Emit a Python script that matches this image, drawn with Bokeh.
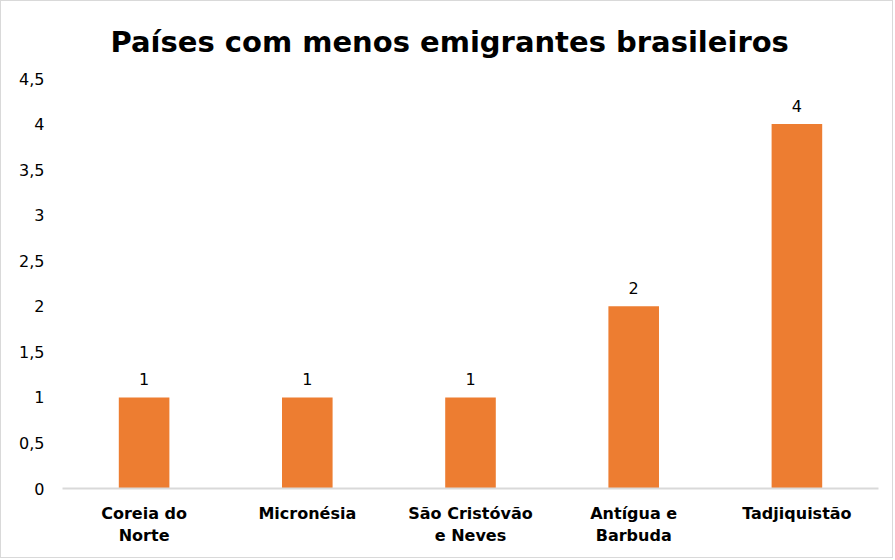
from bokeh.plotting import figure
from bokeh.models import ColumnDataSource, FactorRange, Range1d, FixedTicker, CustomJSTickFormatter, LabelSet
from bokeh.core.properties import value
from bokeh.embed import file_html
from bokeh.resources import INLINE

countries = ["Coreia do\nNorte", "Micronésia", "São Cristóvão\ne Neves", "Antígua e\nBarbuda", "Tadjiquistão"]
values = [1, 1, 1, 2, 4]
value_labels = ["1", "1", "1", "2", "4"]
y_ticks = [0, 0.5, 1, 1.5, 2, 2.5, 3, 3.5, 4, 4.5]
title_text = "Países com menos emigrantes brasileiros"

FONT = "DejaVu Sans"
ORANGE = "#ED7D31"

src = ColumnDataSource(dict(x=countries, y=values, lbl=value_labels))

p = figure(width=893, height=558, x_range=FactorRange(*countries, range_padding=0),
           y_range=Range1d(0, 4.5), output_backend="svg", toolbar_location=None,
           title=title_text)
p.styles = {"border": "1px solid #D9D9D9"}

p.title.align = "left"
p.title.offset = 48
p.title.text_font = FONT
p.title.text_font_size = "29px"
p.title.text_font_style = "bold"
p.title.text_color = "#000000"
p.title.standoff = 40

p.min_border_left = 61
p.min_border_right = 16
p.min_border_top = 77
p.min_border_bottom = 71

p.vbar(x="x", top="y", width=0.31, source=src, fill_color=ORANGE, line_color=None)

labels = LabelSet(x="x", y="y", text="lbl", source=src, text_align="center",
                  text_baseline="bottom", y_offset=12, text_font=value(FONT),
                  text_font_size=value("16px"), text_color="#000000")
p.add_layout(labels)

p.xgrid.grid_line_color = None
p.ygrid.grid_line_color = None
p.outline_line_color = None

p.yaxis.ticker = FixedTicker(ticks=y_ticks)
p.yaxis.formatter = CustomJSTickFormatter(code="return tick.toString().replace('.', ',');")
p.yaxis.axis_line_color = None
p.yaxis.major_tick_line_color = None
p.yaxis.minor_tick_line_color = None
p.yaxis.major_label_text_font = FONT
p.yaxis.major_label_text_font_size = "16px"
p.yaxis.major_label_text_color = "#000000"
p.yaxis.major_label_standoff = 12

p.xaxis.axis_line_color = "#D9D9D9"
p.xaxis.axis_line_width = 2
p.xaxis.major_tick_line_color = None
p.xaxis.minor_tick_line_color = None
p.xaxis.major_label_text_font = FONT
p.xaxis.major_label_text_font_size = "16px"
p.xaxis.major_label_text_font_style = "bold"
p.xaxis.major_label_text_color = "#000000"
p.xaxis.major_label_standoff = 9

open("out.html", "w").write(file_html(p, INLINE))
